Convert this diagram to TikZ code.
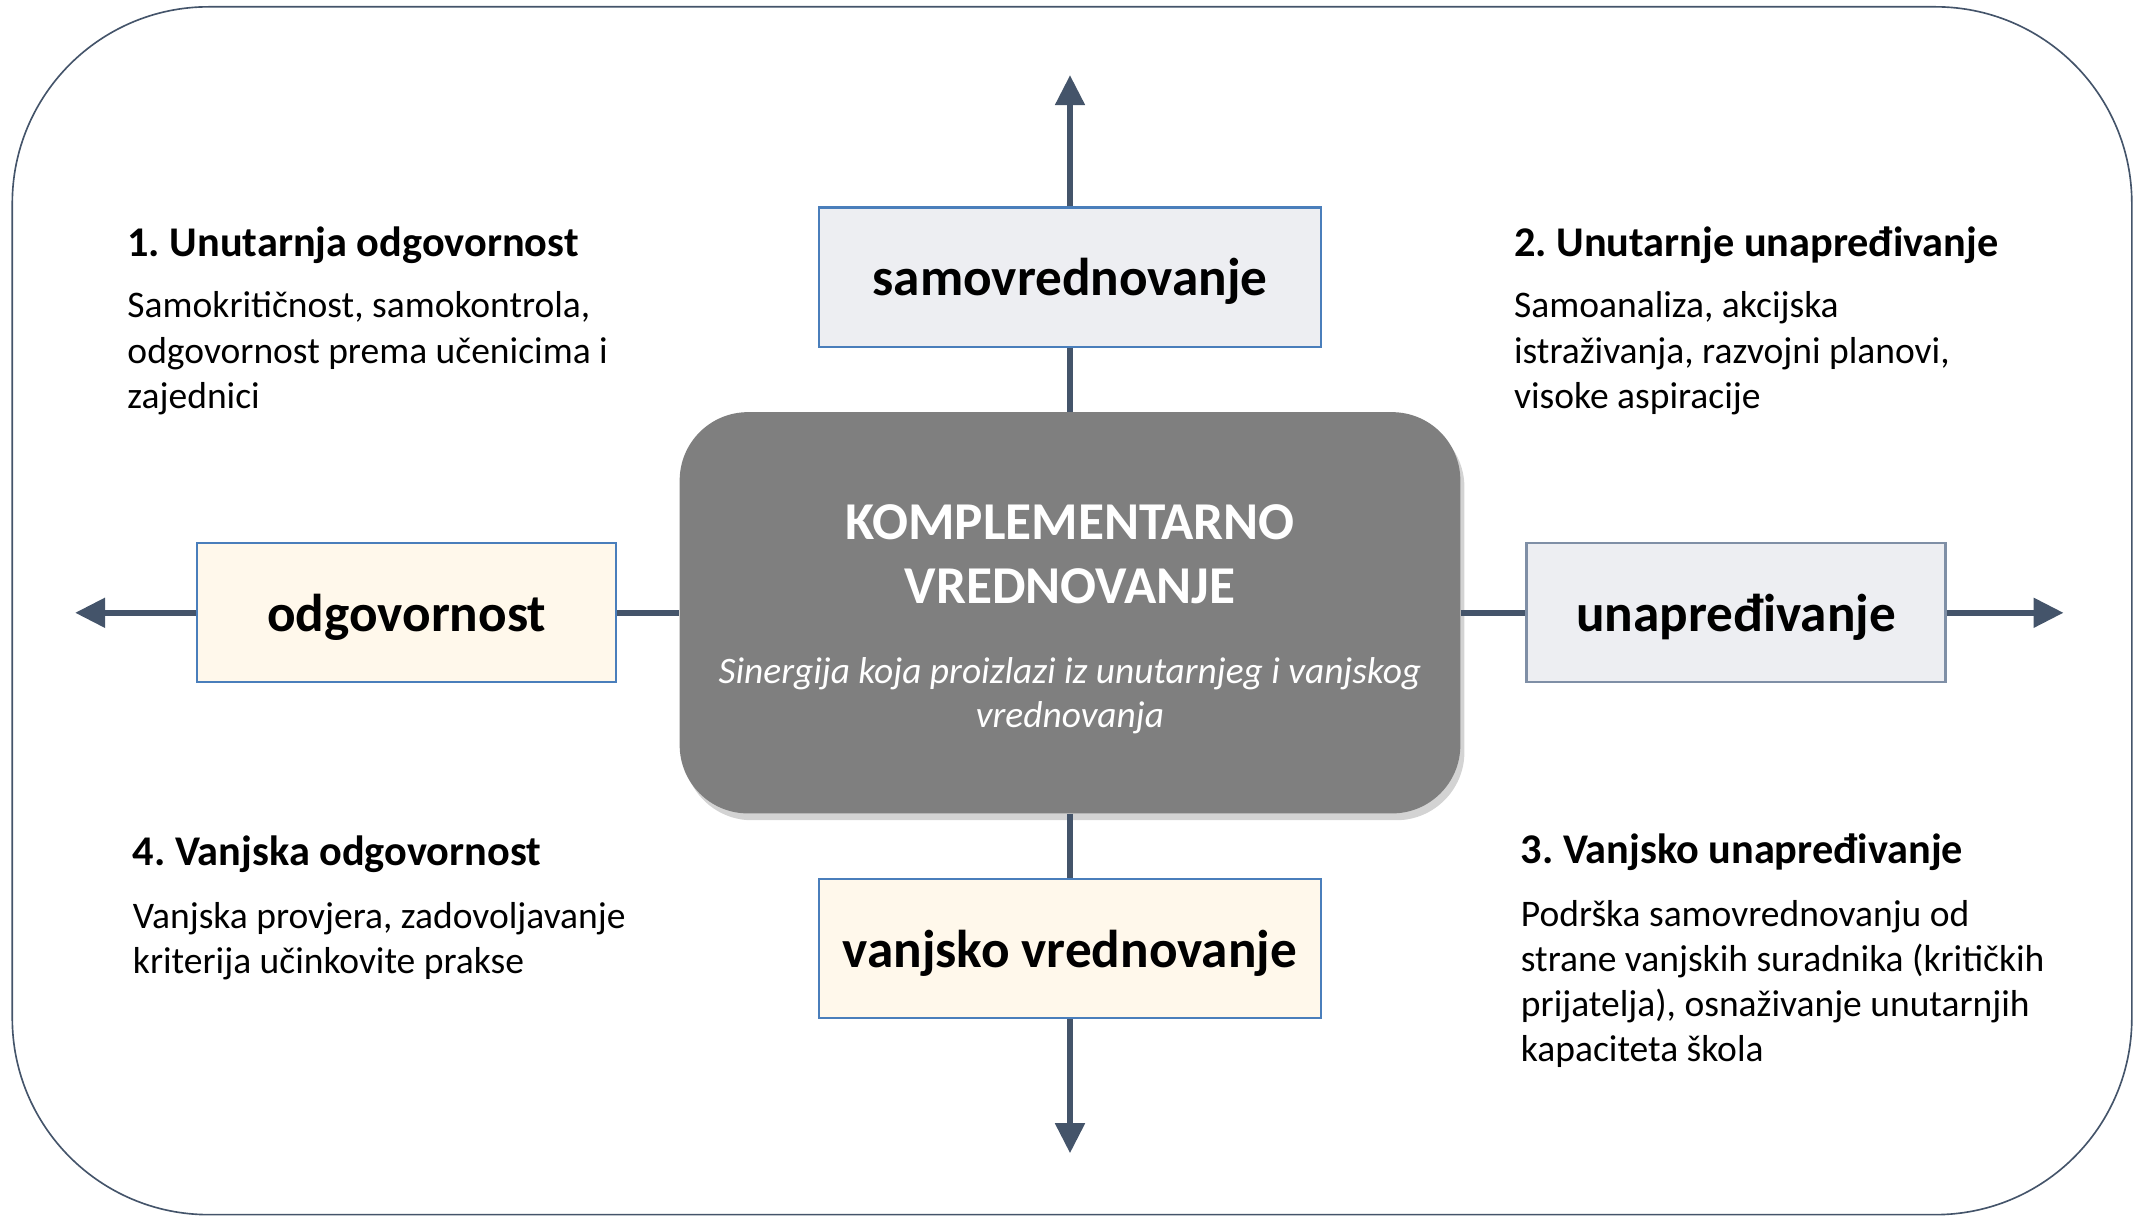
\documentclass[tikz,border=0pt]{standalone}
\usepackage{fontspec}
\setmainfont{Carlito}
\usetikzlibrary{arrows.meta,positioning,shadows}
\frenchspacing

\definecolor{axiscol}{HTML}{44546A}
\definecolor{blueedge}{HTML}{4A7EBB}
\definecolor{grayedge}{HTML}{7F8FA6}
\definecolor{boxgray}{HTML}{EDEEF2}
\definecolor{boxcream}{HTML}{FFF8EB}
\definecolor{coregray}{HTML}{7F7F7F}

\tikzset{
  axisline/.style={draw=axiscol, line width=2.2pt},
  axisarrow/.style={axisline, -{Triangle[length=11pt,width=10.5pt]}},
  widebox/.style={draw=blueedge, line width=0.8pt, minimum width=184pt, minimum height=51pt,
    text height=16pt, text depth=2.4pt, font=\bfseries\fontsize{19.5}{23}\selectfont},
  narrowbox/.style={widebox, minimum width=153.5pt},
  corebox/.style={fill=coregray, rounded corners=25pt, minimum width=286pt, minimum height=147pt,
    drop shadow={opacity=0.35, shadow xshift=1.5pt, shadow yshift=-2.5pt}},
  coretitle/.style={text=white, align=center, inner sep=0pt, font=\bfseries\fontsize{19.5}{23.5}\selectfont},
  coresub/.style={text=white, align=center, inner sep=0pt, font=\itshape\fontsize{13.7}{16}\selectfont},
  heading/.style={anchor=base west, inner sep=0pt, font=\bfseries\fontsize{15.5}{18}\selectfont},
  bodytext/.style={anchor=base west, inner sep=0pt, align=left, font=\fontsize{13.75}{16.5}\selectfont}
}

\begin{document}
\begin{tikzpicture}[x=0.5pt,y=0.5pt,yscale=-1]
\useasboundingbox (0,0) rectangle (1568,892);

% outer frame
\draw[axiscol, line width=0.6pt, rounded corners=72pt] (9,5) rectangle (1562,890);

% centre
\node[corebox] (core) at (784,449) {};
\node[coretitle] (coretext) at (784,406) {KOMPLEMENTARNO\\VREDNOVANJE};
\node[coresub] (coresubtext) at (784,510) {Sinergija koja proizlazi iz unutarnjeg i vanjskog\\vrednovanja};

% the four boxes
\node[widebox, fill=boxgray] (samo) at (784,203) {samovrednovanje};
\node[narrowbox, fill=boxcream] (odg) at (298,449) {odgovornost};
\node[narrowbox, fill=boxgray, draw=grayedge] (unap) at (1272,449) {unapređivanje};
\node[widebox, fill=boxcream] (vanj) at (784,695) {vanjsko vrednovanje};

% arrow ends
\coordinate (upEnd) at (784,55);
\coordinate (leftEnd) at (55,449);
\coordinate (rightEnd) at (1512,449);
\coordinate (downEnd) at (784,845);

% axes
\draw[axisline] (core) -- (samo);
\draw[axisline] (core) -- (odg);
\draw[axisline] (core) -- (unap);
\draw[axisline] (core) -- (vanj);
\draw[axisarrow] (samo) -- (upEnd);
\draw[axisarrow] (odg) -- (leftEnd);
\draw[axisarrow] (unap) -- (rightEnd);
\draw[axisarrow] (vanj) -- (downEnd);

% quadrant texts (base = last line)
\node[heading] (head1) at (93,188) {1. Unutarnja odgovornost};
\node[bodytext] (text1) at (93,299) {Samokritičnost, samokontrola,\\odgovornost prema učenicima i\\zajednici};

\node[heading] (head2) at (1109,188) {2. Unutarnje unapređivanje};
\node[bodytext] (text2) at (1109,299) {Samoanaliza, akcijska\\istraživanja, razvojni planovi,\\visoke aspiracije};

\node[heading] (head4) at (97,634) {4. Vanjska odgovornost};
\node[bodytext] (text4) at (97,713) {Vanjska provjera, zadovoljavanje\\kriterija učinkovite prakse};

\node[heading] (head3) at (1114,633) {3. Vanjsko unapređivanje};
\node[bodytext] (text3) at (1114,778) {Podrška samovrednovanju od\\strane vanjskih suradnika (kritičkih\\prijatelja), osnaživanje unutarnjih\\kapaciteta škola};

\end{tikzpicture}
\end{document}
